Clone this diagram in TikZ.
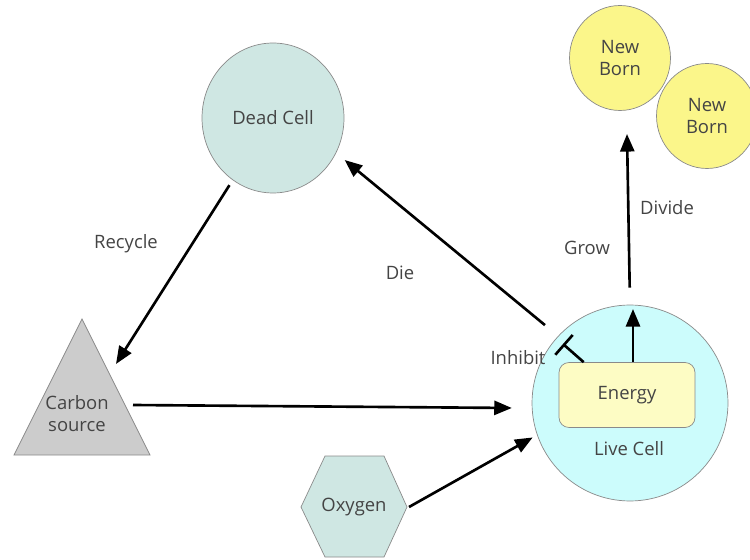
\documentclass[tikz,border=0pt]{standalone}
\usepackage{fontspec}
\setmainfont{Open Sans}
\usetikzlibrary{shapes.geometric,arrows.meta,positioning}

\definecolor{txtgray}{HTML}{444444}
\definecolor{edgegray}{HTML}{8A8A8A}
\definecolor{deadfill}{HTML}{CFE7E3}
\definecolor{bornfill}{HTML}{FBF68A}
\definecolor{livefill}{HTML}{CCFCFC}
\definecolor{energyfill}{HTML}{FDFCC4}
\definecolor{carbonfill}{HTML}{CCCCCC}

\begin{document}
\begin{tikzpicture}[
    x=0.02cm, y=-0.02cm,
    every node/.style={font=\fontsize{10.5}{12.5}\selectfont, text=txtgray, align=center},
    cell/.style={ellipse, draw=edgegray, fill=deadfill, minimum width=2.84cm, minimum height=3.0cm},
    born/.style={ellipse, draw=edgegray, fill=bornfill, minimum width=2.02cm, minimum height=2.1cm},
    live/.style={circle, draw=edgegray, fill=livefill, minimum size=3.92cm},
    energy/.style={rectangle, rounded corners=0.2cm, draw=edgegray, fill=energyfill, minimum width=2.72cm, minimum height=1.3cm},
    lbl/.style={inner sep=1pt},
    arr/.style={-{Triangle[length=10pt,width=8pt]}, line width=1.5pt, black},
    inh/.style={-{Bar[width=15pt,line width=1.5pt]}, line width=1.5pt, black}
]
    \useasboundingbox (0,0) rectangle (750,560);

    % Cells
    \node[cell] (dead) at (273,118) {Dead Cell};
    \node[born] (nb2) at (707,116) {New\\Born};
    \node[born] (nb1) at (620,58) {New\\Born};
    \node[live] (live) at (630,403) {};
    \node[energy] (energy) at (627,395) {Energy};
    \node[lbl] (livelbl) at (629,449) {Live Cell};

    % Carbon source
    \draw[draw=edgegray, fill=carbonfill] (82,319) -- (150,455) -- (14,455) -- cycle;
    \node[lbl] (carbon) at (77,414) {Carbon\\source};
    \coordinate (carbonin) at (116,364);
    \coordinate (carbonout) at (133,405);

    % Oxygen
    \draw[draw=edgegray, fill=deadfill] (301,507) -- (325,456) -- (384,456) -- (407,507) -- (384,557) -- (325,557) -- cycle;
    \node[lbl] (oxygen) at (354,507) {Oxygen};
    \coordinate (oxout) at (409,507);

    % Connections
    \draw[arr, shorten <=0.12cm] (dead.237) -- (carbonin);
    \draw[arr, shorten >=0.4cm] (carbonout) -- (live.183);
    \draw[arr, shorten >=0.1cm] (oxout) -- (live.199);
    \draw[arr, shorten <=0.34cm, shorten >=0.22cm] (live.137.5) -- (dead.331);
    \coordinate (growtip) at (633,309);
    \draw[arr] (energy.north -| growtip) -- (growtip);
    \coordinate (dividetip) at (627,134);
    \draw[arr, shorten <=0.34cm] (live.north) -- (dividetip);
    \coordinate (inhtip) at (563,344);
    \draw[inh] ([xshift=0.5cm]energy.north west) -- (inhtip);

    % Labels
    \node[lbl] (recycle) at (126,244) {Recycle};
    \node[lbl] (die) at (400,273) {Die};
    \node[lbl] (grow) at (587,248) {Grow};
    \node[lbl] (divide) at (667,208) {Divide};
    \node[lbl] (inhibit) at (518,358) {Inhibit};
\end{tikzpicture}
\end{document}
